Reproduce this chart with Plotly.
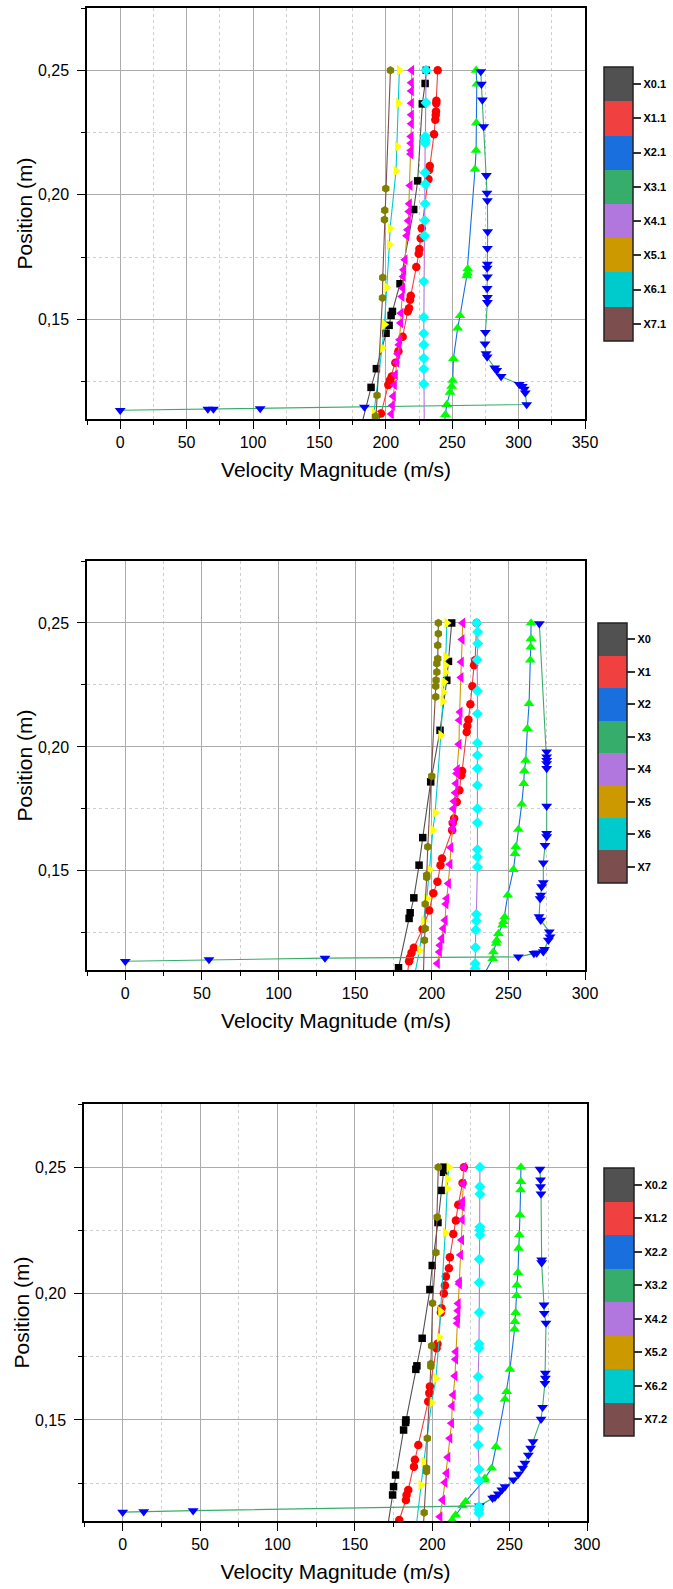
import plotly.graph_objects as go

# ---------------- data: velocity magnitude (m/s) vs position (m) ----------------
# Panel 1 (stations X0.1 ... X7.1)
V1_X0 = [230.5, 229.6, 227.5, 224.0, 221.0, 210.7, 205.0, 204.0, 202.5, 200.2, 192.9, 188.9, 181.5]
Y1_X0 = [0.250, 0.2447, 0.2365, 0.2056, 0.1941, 0.1643, 0.1532, 0.1516, 0.1476, 0.1444, 0.1302, 0.1227, 0.107]
V1_X1 = [239.1, 238.1, 238.0, 237.8, 237.6, 237.3, 236.3, 233.1, 232.6, 232.1, 227.1, 226.3, 225.3, 224.8,
         223.0, 218.8, 218.3, 217.5, 216.5, 212.7, 209.5, 207.2, 204.5, 203.2, 201.9, 196.4, 192.0]
Y1_X1 = [0.250, 0.2378, 0.2368, 0.2334, 0.2320, 0.2301, 0.2243, 0.2116, 0.2100, 0.2063, 0.1866, 0.1826, 0.1782,
         0.1763, 0.1710, 0.1595, 0.1579, 0.1545, 0.1532, 0.1430, 0.1372, 0.1326, 0.1271, 0.1257, 0.1237, 0.1122, 0.105]
V1_X2 = [268.0, 268.5, 268.2, 268.0, 267.2, 261.7, 261.5, 261.0, 255.9, 254.1, 250.9, 250.4, 249.6, 248.4,
         245.9, 244.9, 243.5]
Y1_X2 = [0.250, 0.2444, 0.2289, 0.2178, 0.2103, 0.1703, 0.1686, 0.1675, 0.1515, 0.1465, 0.1342, 0.1255, 0.1231,
         0.1207, 0.1158, 0.1118, 0.106]
V1_X3 = [271.5, 272.0, 272.7, 273.7, 275.7, 276.2, 276.5, 276.7, 276.5, 276.5, 276.3, 276.5, 276.3, 276.5, 276.5,
         275.0, 274.7, 275.5, 276.3, 282.0, 283.5, 286.8, 300.5, 302.8, 304.3, 305.0, 306.1, 183.9, 105.4, 70.2,
         66.0, 0.0]
Y1_X3 = [0.2495, 0.2444, 0.2381, 0.2274, 0.2078, 0.2007, 0.1977, 0.1852, 0.1785, 0.1722, 0.1706, 0.1671, 0.1624,
         0.1588, 0.1568, 0.1448, 0.1402, 0.1362, 0.1349, 0.1305, 0.1295, 0.1271, 0.1239, 0.1231, 0.1220, 0.1205,
         0.1158, 0.1148, 0.1142, 0.1140, 0.1140, 0.1135]
V1_X4 = [230.3, 230.3, 229.8, 229.8, 229.6, 229.6, 229.8, 229.6, 229.3, 229.1, 228.6, 228.6, 228.6, 228.6, 228.6,
         228.6, 228.6, 229.0]
Y1_X4 = [0.250, 0.2370, 0.2234, 0.2220, 0.2207, 0.2089, 0.2043, 0.1964, 0.1897, 0.1836, 0.1652, 0.1508, 0.1443,
         0.1398, 0.1344, 0.1301, 0.1241, 0.105]
V1_X5 = [219.5, 219.3, 219.3, 219.3, 219.3, 219.3, 219.0, 219.0, 219.0, 218.8, 218.3, 217.8, 217.5, 217.0, 216.5,
         215.8, 214.5, 213.5, 213.2, 212.7, 212.2, 211.5, 211.2, 210.5, 210.0, 209.0, 208.2, 207.2, 206.5, 205.7,
         205.0, 204.2]
Y1_X5 = [0.250, 0.2450, 0.2417, 0.2368, 0.2321, 0.2285, 0.2234, 0.2207, 0.2178, 0.2164, 0.2037, 0.1964, 0.1933,
         0.1896, 0.1860, 0.1836, 0.1739, 0.1699, 0.1672, 0.1626, 0.1592, 0.1525, 0.1485, 0.1418, 0.1398, 0.1362,
         0.1328, 0.1278, 0.1237, 0.1191, 0.1154, 0.1120]
V1_X6 = [210.2, 209.5, 208.7, 207.7, 203.2, 202.7, 200.7, 199.0, 197.2, 191.2, 189.5]
Y1_X6 = [0.250, 0.2368, 0.2194, 0.2096, 0.1865, 0.1800, 0.1628, 0.1479, 0.1385, 0.1124, 0.106]
V1_X7 = [203.5, 200.0, 199.2, 199.0, 197.7, 197.5, 193.4, 192.2, 192.0]
Y1_X7 = [0.250, 0.2025, 0.1938, 0.1900, 0.1668, 0.1586, 0.1195, 0.1111, 0.105]

# Panel 2 (stations X0 ... X7)
V2_X0 = [213.0, 210.9, 209.8, 205.4, 199.3, 194.1, 191.7, 188.3, 185.9, 185.2, 178.3, 176.5]
Y2_X0 = [0.250, 0.2345, 0.2269, 0.2067, 0.1859, 0.1634, 0.1523, 0.1391, 0.1331, 0.1308, 0.1109, 0.106]
V2_X1 = [229.3, 228.3, 227.6, 226.5, 225.2, 223.9, 223.2, 222.8, 219.8, 219.3, 218.0, 216.3, 214.6, 213.7, 213.3,
         206.7, 205.7, 203.7, 201.0, 198.3, 194.0, 188.3, 186.8, 185.8, 185.2, 184.0]
Y2_X1 = [0.250, 0.2350, 0.2329, 0.2245, 0.2172, 0.2110, 0.2084, 0.2060, 0.1903, 0.1886, 0.1825, 0.1778, 0.1711,
         0.1693, 0.1664, 0.1550, 0.1523, 0.1456, 0.1410, 0.1340, 0.1265, 0.1190, 0.1170, 0.1150, 0.1135, 0.108]
V2_X2 = [264.8, 264.8, 264.6, 264.3, 263.5, 262.4, 261.3, 260.4, 260.0, 258.7, 256.5, 254.8, 254.3, 253.3, 249.6,
         247.6, 246.8, 246.1, 243.5, 242.4, 242.0, 240.2, 239.8, 233.0]
Y2_X2 = [0.250, 0.2437, 0.2403, 0.2350, 0.2175, 0.2074, 0.1946, 0.1903, 0.1852, 0.1769, 0.1667, 0.1597, 0.1570,
         0.1505, 0.1402, 0.1314, 0.1295, 0.1281, 0.1247, 0.1220, 0.1207, 0.1173, 0.1146, 0.107]
V2_X3 = [270.2, 275.0, 275.0, 275.0, 275.0, 275.0, 275.0, 275.0, 275.0, 273.9, 272.8, 272.8, 271.7, 271.1, 270.7,
         270.0, 271.1, 276.7, 277.2, 276.1, 273.5, 272.8, 268.5, 266.7, 256.5, 130.3, 54.6, 0.0]
Y2_X3 = [0.2497, 0.1980, 0.1960, 0.1946, 0.1933, 0.1913, 0.1761, 0.1651, 0.1638, 0.1603, 0.1532, 0.1452, 0.1436,
         0.1402, 0.1388, 0.1315, 0.1301, 0.1254, 0.1234, 0.1220, 0.1183, 0.1174, 0.1169, 0.1167, 0.1153, 0.1148,
         0.1142, 0.1135]
V2_X4 = [229.3, 230.0, 230.0, 229.6, 229.8, 229.8, 229.8, 229.8, 229.8, 229.8, 229.8, 229.8, 229.8, 229.8, 229.8,
         229.1, 229.1, 228.7, 228.5, 228.3, 228.3]
Y2_X4 = [0.250, 0.2464, 0.2417, 0.2352, 0.2226, 0.2134, 0.2016, 0.1966, 0.1913, 0.1845, 0.1751, 0.1694, 0.1586,
         0.1556, 0.1516, 0.1325, 0.1298, 0.1261, 0.1191, 0.1126, 0.1106]
V2_X5 = [220.2, 219.8, 219.3, 219.1, 218.5, 218.0, 217.8, 216.7, 216.3, 215.9, 215.4, 214.6, 214.1, 213.7, 213.7,
         212.4, 211.9, 210.9, 209.8, 209.3, 208.7, 207.6, 206.5, 205.4, 205.0, 203.7]
Y2_X5 = [0.250, 0.2433, 0.2343, 0.2280, 0.2141, 0.2108, 0.2011, 0.1909, 0.1893, 0.1852, 0.1815, 0.1781, 0.1751,
         0.1698, 0.1671, 0.1594, 0.1527, 0.1449, 0.1388, 0.1366, 0.1301, 0.1267, 0.1227, 0.1200, 0.1173, 0.1126]
V2_X6 = [209.8, 209.1, 208.9, 208.9, 208.0, 207.6, 207.2, 205.9, 202.2, 200.7, 198.5, 196.7, 194.6, 192.0, 188.5]
Y2_X6 = [0.250, 0.2363, 0.2329, 0.2302, 0.2262, 0.2222, 0.2184, 0.2047, 0.1734, 0.1664, 0.1505, 0.1388, 0.1298,
         0.1180, 0.107]
V2_X7 = [204.3, 204.3, 203.9, 203.9, 203.3, 203.3, 202.8, 202.6, 202.6, 200.0, 197.4, 196.7, 196.7, 195.7, 195.7,
         195.2, 194.5]
Y2_X7 = [0.250, 0.2457, 0.2410, 0.2356, 0.2336, 0.2302, 0.2269, 0.2245, 0.2202, 0.1882, 0.1597, 0.1483, 0.1474,
         0.1366, 0.1267, 0.1220, 0.107]

# Panel 3 (stations X0.2 ... X7.2)
V3_X0 = [207.5, 207.3, 206.0, 203.7, 200.0, 198.5, 193.5, 190.1, 189.4, 183.0, 182.8, 181.5, 176.3, 175.0, 174.4,
         171.0]
Y3_X0 = [0.250, 0.2480, 0.2408, 0.2281, 0.2111, 0.2016, 0.1823, 0.1714, 0.1700, 0.1500, 0.1490, 0.1460, 0.1282,
         0.1236, 0.1203, 0.107]
V3_X1 = [220.5, 219.6, 216.8, 215.3, 213.6, 211.4, 210.8, 208.8, 208.2, 207.5, 206.0, 205.6, 203.4, 202.8, 198.5,
         198.1, 197.4, 191.0, 188.8, 188.2, 184.5, 183.4, 183.0, 178.7, 177.0]
Y3_X1 = [0.250, 0.2437, 0.2351, 0.2289, 0.2236, 0.2144, 0.2100, 0.2067, 0.2032, 0.2000, 0.1942, 0.1925, 0.1801,
         0.1784, 0.1632, 0.1606, 0.1573, 0.1401, 0.1342, 0.1315, 0.1223, 0.1203, 0.1183, 0.1104, 0.107]
V3_X2 = [257.3, 257.3, 257.1, 256.7, 256.3, 255.8, 255.4, 254.7, 254.5, 253.9, 253.4, 253.2, 250.2, 248.1, 247.0,
         241.2, 238.4, 234.0, 233.6, 221.6, 219.6, 215.1, 212.9, 211.5]
Y3_X2 = [0.250, 0.2443, 0.2410, 0.2311, 0.2232, 0.2179, 0.2083, 0.2033, 0.1992, 0.1925, 0.1889, 0.1859, 0.1700,
         0.1612, 0.1582, 0.1394, 0.1309, 0.1269, 0.1262, 0.1177, 0.1160, 0.1124, 0.1104, 0.108]
V3_X3 = [269.6, 270.0, 270.0, 270.3, 270.7, 270.7, 272.2, 272.4, 273.5, 273.1, 273.1, 272.8, 271.3, 270.3, 265.1,
         263.6, 262.1, 259.9, 258.4, 255.6, 252.4, 247.0, 245.0, 242.7, 240.5, 239.0, 230.5, 45.5, 13.6, 0.0]
Y3_X3 = [0.2492, 0.2450, 0.2423, 0.2394, 0.2133, 0.2122, 0.1955, 0.1922, 0.1883, 0.1685, 0.1665, 0.1645, 0.1550,
         0.1503, 0.1414, 0.1388, 0.1361, 0.1329, 0.1309, 0.1285, 0.1263, 0.1236, 0.1223, 0.1207, 0.1194, 0.1190,
         0.1160, 0.1141, 0.1137, 0.1135]
V3_X4 = [230.8, 230.8, 230.8, 230.8, 230.8, 230.8, 230.4, 230.4, 230.4, 230.2, 230.2, 229.7, 229.7, 229.7, 229.7,
         229.7, 230.2, 230.2, 230.2, 230.2, 230.2, 230.2]
Y3_X4 = [0.250, 0.2423, 0.2394, 0.2263, 0.2250, 0.2232, 0.2136, 0.2044, 0.1925, 0.1801, 0.1784, 0.1671, 0.1586,
         0.1529, 0.1467, 0.1401, 0.1305, 0.1260, 0.1157, 0.1145, 0.1131, 0.107]
V3_X5 = [220.5, 220.0, 219.6, 219.4, 219.4, 219.0, 218.3, 217.5, 217.5, 216.8, 216.6, 216.4, 216.2, 215.3, 215.1,
         214.7, 213.6, 212.9, 212.5, 211.4, 210.1, 209.3, 208.2, 206.7, 205.0]
Y3_X5 = [0.250, 0.2434, 0.2364, 0.2344, 0.2292, 0.2212, 0.2153, 0.2047, 0.2038, 0.1961, 0.1932, 0.1902, 0.1882,
         0.1770, 0.1740, 0.1674, 0.1599, 0.1555, 0.1487, 0.1427, 0.1352, 0.1289, 0.1252, 0.1183, 0.1117]
V3_X6 = [210.8, 209.9, 209.7, 208.4, 205.4, 204.5, 202.4, 199.6, 194.6, 192.7, 189.5]
Y3_X6 = [0.250, 0.2453, 0.2417, 0.2241, 0.1929, 0.1827, 0.1665, 0.1569, 0.1335, 0.1243, 0.107]
V3_X7 = [203.9, 203.2, 202.4, 200.2, 199.6, 199.1, 199.1, 196.8, 196.3, 196.3, 194.8, 194.2]
Y3_X7 = [0.250, 0.2302, 0.2162, 0.1962, 0.1793, 0.1722, 0.1712, 0.1427, 0.1309, 0.1296, 0.1133, 0.107]

LABELS_1 = ["X0.1", "X1.1", "X2.1", "X3.1", "X4.1", "X5.1", "X6.1", "X7.1"]
LABELS_2 = ["X0", "X1", "X2", "X3", "X4", "X5", "X6", "X7"]
LABELS_3 = ["X0.2", "X1.2", "X2.2", "X3.2", "X4.2", "X5.2", "X6.2", "X7.2"]

X_MAX = [350, 300, 300]

# ---------------- styling ----------------
LINE_COLORS = ["#515151", "#F14040", "#1A6FDF", "#37AD6B", "#B177DE", "#CC9900", "#00CBCC", "#7D4E4E"]
MARKER_COLORS = ["#000000", "#FF0000", "#00FF00", "#0000FF", "#00FFFF", "#FF00FF", "#FFFF00", "#808000"]
SYMBOLS = ["square", "circle", "triangle-up", "triangle-down", "diamond", "triangle-left",
           "triangle-right", "hexagon"]
SIZES = [7.5, 8.5, 9.5, 9.5, 8.5, 9.5, 9.5, 8.5]
FONT = "Arial, 'Liberation Sans', sans-serif"

W, H = 673, 1589
# plot boxes in pixels: (left, right, top, bottom)
BOXES = [(87, 585, 8, 419), (87, 585, 561, 970), (84, 587, 1104, 1521)]
# colour keys in pixels: (left, top, thickness, length)
KEYS = [(604, 67, 29, 274), (598, 623, 29, 260), (604, 1168, 30, 268)]

panels = [
    (list(zip([V1_X0, V1_X1, V1_X2, V1_X3, V1_X4, V1_X5, V1_X6, V1_X7],
              [Y1_X0, Y1_X1, Y1_X2, Y1_X3, Y1_X4, Y1_X5, Y1_X6, Y1_X7])), LABELS_1),
    (list(zip([V2_X0, V2_X1, V2_X2, V2_X3, V2_X4, V2_X5, V2_X6, V2_X7],
              [Y2_X0, Y2_X1, Y2_X2, Y2_X3, Y2_X4, Y2_X5, Y2_X6, Y2_X7])), LABELS_2),
    (list(zip([V3_X0, V3_X1, V3_X2, V3_X3, V3_X4, V3_X5, V3_X6, V3_X7],
              [Y3_X0, Y3_X1, Y3_X2, Y3_X3, Y3_X4, Y3_X5, Y3_X6, Y3_X7])), LABELS_3),
]

# discrete colour scale: X0 at the top of the key, X7 at the bottom
n = len(LINE_COLORS)
scale = []
for k, c in enumerate(reversed(LINE_COLORS)):
    scale.append([k / n, c])
    scale.append([(k + 1) / n, c])

fig = go.Figure()
layout = {}

for p, (series, labels) in enumerate(panels):
    sfx = "" if p == 0 else str(p + 1)
    xa, ya = "x" + sfx, "y" + sfx
    for i, (v, y) in enumerate(series):
        fig.add_trace(go.Scatter(
            x=v, y=y, mode="lines+markers", xaxis=xa, yaxis=ya, name=labels[i],
            line=dict(color=LINE_COLORS[i], width=1.1),
            marker=dict(symbol=SYMBOLS[i], size=SIZES[i], color=MARKER_COLORS[i], line=dict(width=0)),
            showlegend=False,
        ))

    left, right, top, bottom = BOXES[p]
    kx, ky, kt, kl = KEYS[p]
    fig.add_trace(go.Scatter(
        x=[None], y=[None], xaxis=xa, yaxis=ya, mode="markers", showlegend=False, hoverinfo="skip",
        marker=dict(color=[0], cmin=0, cmax=n, colorscale=scale, showscale=True,
                    colorbar=dict(
                        x=kx / W, xanchor="left", y=1 - ky / H, yanchor="top",
                        xpad=0, ypad=0, thicknessmode="pixels", thickness=kt,
                        lenmode="pixels", len=kl,
                        outlinewidth=1.5, outlinecolor="#222222",
                        tickmode="array", tickvals=[n - 0.5 - k for k in range(n)], ticktext=labels,
                        ticks="outside", ticklen=8, tickwidth=1.5, tickcolor="#333333",
                        tickfont=dict(family=FONT, size=11, color="#000000", weight="bold"),
                    )),
    ))

    axis_common = dict(
        showline=True, linecolor="#000000", linewidth=1.5, mirror=True,
        ticks="outside", ticklen=8, tickwidth=1.3, tickcolor="#000000",
        showgrid=True, gridcolor="#ababab", gridwidth=1.2,
        zeroline=False, automargin=False,
        tickfont=dict(family=FONT, size=16, color="#000000"),
    )
    layout["xaxis" + sfx] = dict(
        axis_common, anchor=ya, domain=[left / W, right / W],
        range=[-25, X_MAX[p]], tick0=0, dtick=50,
        minor=dict(dtick=25, tick0=0, ticks="outside", ticklen=4, tickcolor="#000000", tickwidth=1.3,
                   showgrid=True, gridcolor="#cfcfcf", griddash="dot", gridwidth=1),
        title=dict(text="Velocity Magnitude (m/s)", standoff=12,
                   font=dict(family=FONT, size=21, color="#000000")),
    )
    layout["yaxis" + sfx] = dict(
        axis_common, anchor=xa, domain=[1 - bottom / H, 1 - top / H],
        range=[0.11, 0.275], tick0=0, dtick=0.05, tickformat=".2f", ticklabelstandoff=5,
        minor=dict(dtick=0.025, tick0=0, ticks="outside", ticklen=4, tickcolor="#000000", tickwidth=1.3,
                   showgrid=True, gridcolor="#cfcfcf", griddash="dot", gridwidth=1),
        title=dict(text="Position (m)", standoff=0,
                   font=dict(family=FONT, size=21, color="#000000")),
    )

fig.update_layout(
    width=W, height=H, margin=dict(l=0, r=0, t=0, b=0),
    paper_bgcolor="#ffffff", plot_bgcolor="#ffffff",
    separators=",.", font=dict(family=FONT, color="#000000"),
    **layout,
)

fig.write_html("out.html")
